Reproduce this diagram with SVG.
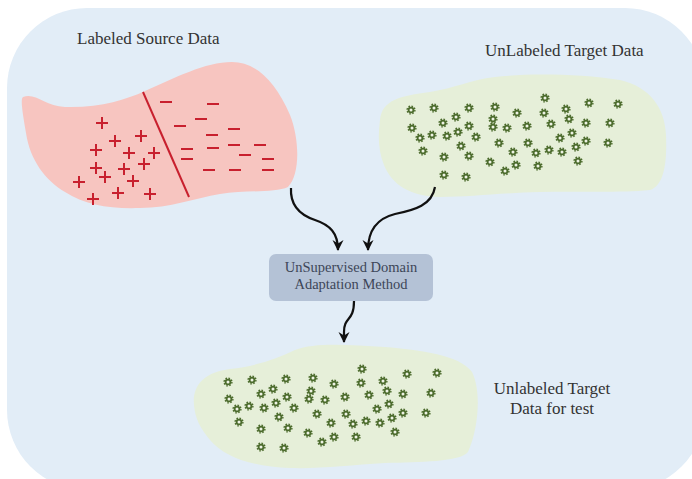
<svg xmlns="http://www.w3.org/2000/svg" xmlns:xlink="http://www.w3.org/1999/xlink" width="692" height="479" viewBox="0 0 692 479">
  <style>
    .label { font-family: 'Liberation Serif', 'Times New Roman', serif; font-size: 17px; fill: #333333; }
    .boxtext { font-family: 'Liberation Serif', 'Times New Roman', serif; font-size: 14.5px; fill: #3d4658; text-anchor: middle; }
    .plus, .minus { stroke: #c8202e; stroke-width: 2; stroke-linecap: butt; fill: none; }
    .conn { fill: none; stroke: #111111; stroke-width: 2.2; }
  </style>
  <defs>
    <marker id="head" viewBox="0 0 12 12" refX="10" refY="6" markerWidth="12" markerHeight="12" markerUnits="userSpaceOnUse" orient="auto">
      <path d="M0,0.5 L11,6 L0,11.5 L3.5,6 Z" fill="#111111"/>
    </marker>
    <!-- small cog used for unlabeled samples -->
    <symbol id="gear" viewBox="-5 -5 10 10" overflow="visible">
      <circle r="3.9" fill="none" stroke="#4b6b2c" stroke-width="1.4" stroke-dasharray="1.6 1.46"/>
      <circle r="3.3" fill="#4b6b2c"/>
      <circle r="1.5" fill="#eef3e4"/>
    </symbol>
  </defs>

  <!-- backdrop panel -->
  <rect x="7" y="8" width="698" height="482" rx="80" ry="80" fill="#e2edf7"/>

  <!-- labeled source domain -->
  <g id="source">
    <path d="M23,97 C35,92 45,106 65,107 C100,108 125,100 145,91 C175,78 205,62 232,62 C255,62 275,80 290,115 C300,140 300,175 288,187 C275,193 245,190 220,194 C195,198 170,208 140,208 C110,209 85,205 65,192 C45,180 30,160 26,133 C23,115 20,99 23,97 Z" fill="#f7c5c0"/>
    <line x1="143" y1="92" x2="189" y2="197" stroke="#c8202e" stroke-width="2"/>
    <g class="plus">
      <path d="M96,123h12M102,117v12"/>
      <path d="M109,141h12M115,135v12"/>
      <path d="M135,136h12M141,130v12"/>
      <path d="M90,150h12M96,144v12"/>
      <path d="M123,153h12M129,147v12"/>
      <path d="M148,153h12M154,147v12"/>
      <path d="M138,164h12M144,158v12"/>
      <path d="M90,168h12M96,162v12"/>
      <path d="M118,169h12M124,163v12"/>
      <path d="M99,177h12M105,171v12"/>
      <path d="M127,181h12M133,175v12"/>
      <path d="M73,182h12M79,176v12"/>
      <path d="M112,193h12M118,187v12"/>
      <path d="M87,199h12M93,193v12"/>
      <path d="M144,194h12M150,188v12"/>
    </g>
    <g class="minus">
      <path d="M160,102h12"/>
      <path d="M207,104h12"/>
      <path d="M174,126h12"/>
      <path d="M195,119h12"/>
      <path d="M206,135h12"/>
      <path d="M228,129h12"/>
      <path d="M181,149h12"/>
      <path d="M207,148h12"/>
      <path d="M228,145h12"/>
      <path d="M254,145h12"/>
      <path d="M239,155h12"/>
      <path d="M181,159h12"/>
      <path d="M262,159h12"/>
      <path d="M203,170h12"/>
      <path d="M229,170h12"/>
      <path d="M262,170h12"/>
    </g>
    <text class="label" x="77" y="44">Labeled Source Data</text>
  </g>

  <!-- unlabeled target domain -->
  <g id="target">
    <path d="M380,120 C382,100 400,96 430,92 C455,88 470,80 495,77 C530,73 580,74 620,80 C650,87 665,108 666,135 C667,160 665,185 650,190 C620,193 580,191 540,192 C500,193 470,197 440,197 C410,196 392,185 384,165 C378,150 378,135 380,120 Z" fill="#e6efd9"/>
    <g>
      <use href="#gear" x="406" y="105" width="10" height="10"/>
      <use href="#gear" x="429" y="103" width="10" height="10"/>
      <use href="#gear" x="464" y="103" width="10" height="10"/>
      <use href="#gear" x="490" y="102" width="10" height="10"/>
      <use href="#gear" x="512" y="108" width="10" height="10"/>
      <use href="#gear" x="540" y="93" width="10" height="10"/>
      <use href="#gear" x="539" y="108" width="10" height="10"/>
      <use href="#gear" x="561" y="104" width="10" height="10"/>
      <use href="#gear" x="584" y="98" width="10" height="10"/>
      <use href="#gear" x="613" y="99" width="10" height="10"/>
      <use href="#gear" x="407" y="123" width="10" height="10"/>
      <use href="#gear" x="438" y="118" width="10" height="10"/>
      <use href="#gear" x="451" y="112" width="10" height="10"/>
      <use href="#gear" x="464" y="121" width="10" height="10"/>
      <use href="#gear" x="488" y="114" width="10" height="10"/>
      <use href="#gear" x="488" y="122" width="10" height="10"/>
      <use href="#gear" x="502" y="123" width="10" height="10"/>
      <use href="#gear" x="522" y="121" width="10" height="10"/>
      <use href="#gear" x="546" y="119" width="10" height="10"/>
      <use href="#gear" x="564" y="114" width="10" height="10"/>
      <use href="#gear" x="581" y="118" width="10" height="10"/>
      <use href="#gear" x="605" y="118" width="10" height="10"/>
      <use href="#gear" x="415" y="133" width="10" height="10"/>
      <use href="#gear" x="427" y="130" width="10" height="10"/>
      <use href="#gear" x="442" y="131" width="10" height="10"/>
      <use href="#gear" x="453" y="127" width="10" height="10"/>
      <use href="#gear" x="471" y="132" width="10" height="10"/>
      <use href="#gear" x="456" y="141" width="10" height="10"/>
      <use href="#gear" x="494" y="138" width="10" height="10"/>
      <use href="#gear" x="523" y="138" width="10" height="10"/>
      <use href="#gear" x="555" y="133" width="10" height="10"/>
      <use href="#gear" x="567" y="128" width="10" height="10"/>
      <use href="#gear" x="581" y="136" width="10" height="10"/>
      <use href="#gear" x="603" y="138" width="10" height="10"/>
      <use href="#gear" x="418" y="146" width="10" height="10"/>
      <use href="#gear" x="439" y="152" width="10" height="10"/>
      <use href="#gear" x="464" y="151" width="10" height="10"/>
      <use href="#gear" x="508" y="147" width="10" height="10"/>
      <use href="#gear" x="531" y="148" width="10" height="10"/>
      <use href="#gear" x="544" y="145" width="10" height="10"/>
      <use href="#gear" x="557" y="147" width="10" height="10"/>
      <use href="#gear" x="571" y="142" width="10" height="10"/>
      <use href="#gear" x="485" y="157" width="10" height="10"/>
      <use href="#gear" x="500" y="166" width="10" height="10"/>
      <use href="#gear" x="511" y="160" width="10" height="10"/>
      <use href="#gear" x="533" y="161" width="10" height="10"/>
      <use href="#gear" x="573" y="156" width="10" height="10"/>
      <use href="#gear" x="439" y="170" width="10" height="10"/>
      <use href="#gear" x="461" y="172" width="10" height="10"/>
    </g>
    <text class="label" x="485" y="56">UnLabeled Target Data</text>
  </g>

  <!-- adaptation step -->
  <g id="method">
    <rect x="269" y="254" width="164" height="47" rx="7" ry="7" fill="#b4c2d6"/>
    <text class="boxtext" x="351" y="272">UnSupervised Domain</text>
    <text class="boxtext" x="351" y="289">Adaptation Method</text>
  </g>

  <!-- target samples for evaluation -->
  <g id="test">
    <path d="M194,405 C192,385 205,372 230,369 C255,366 275,360 295,350 C315,342 350,345 385,347 C420,350 460,355 472,372 C482,392 478,430 468,452 C460,462 420,462 385,463 C350,465 320,469 290,468 C255,467 225,458 210,440 C200,428 195,418 194,405 Z" fill="#e6efd9"/>
    <g>
      <use href="#gear" x="223" y="377" width="10" height="10"/>
      <use href="#gear" x="247" y="375" width="10" height="10"/>
      <use href="#gear" x="281" y="374" width="10" height="10"/>
      <use href="#gear" x="308" y="373" width="10" height="10"/>
      <use href="#gear" x="329" y="379" width="10" height="10"/>
      <use href="#gear" x="357" y="364" width="10" height="10"/>
      <use href="#gear" x="356" y="378" width="10" height="10"/>
      <use href="#gear" x="378" y="376" width="10" height="10"/>
      <use href="#gear" x="402" y="369" width="10" height="10"/>
      <use href="#gear" x="432" y="368" width="10" height="10"/>
      <use href="#gear" x="224" y="394" width="10" height="10"/>
      <use href="#gear" x="256" y="389" width="10" height="10"/>
      <use href="#gear" x="268" y="384" width="10" height="10"/>
      <use href="#gear" x="282" y="392" width="10" height="10"/>
      <use href="#gear" x="306" y="386" width="10" height="10"/>
      <use href="#gear" x="304" y="394" width="10" height="10"/>
      <use href="#gear" x="320" y="395" width="10" height="10"/>
      <use href="#gear" x="340" y="392" width="10" height="10"/>
      <use href="#gear" x="364" y="390" width="10" height="10"/>
      <use href="#gear" x="382" y="386" width="10" height="10"/>
      <use href="#gear" x="398" y="389" width="10" height="10"/>
      <use href="#gear" x="426" y="388" width="10" height="10"/>
      <use href="#gear" x="232" y="404" width="10" height="10"/>
      <use href="#gear" x="244" y="401" width="10" height="10"/>
      <use href="#gear" x="259" y="403" width="10" height="10"/>
      <use href="#gear" x="271" y="398" width="10" height="10"/>
      <use href="#gear" x="289" y="403" width="10" height="10"/>
      <use href="#gear" x="274" y="412" width="10" height="10"/>
      <use href="#gear" x="312" y="409" width="10" height="10"/>
      <use href="#gear" x="341" y="409" width="10" height="10"/>
      <use href="#gear" x="372" y="404" width="10" height="10"/>
      <use href="#gear" x="384" y="399" width="10" height="10"/>
      <use href="#gear" x="398" y="408" width="10" height="10"/>
      <use href="#gear" x="421" y="408" width="10" height="10"/>
      <use href="#gear" x="234" y="417" width="10" height="10"/>
      <use href="#gear" x="256" y="424" width="10" height="10"/>
      <use href="#gear" x="283" y="423" width="10" height="10"/>
      <use href="#gear" x="326" y="418" width="10" height="10"/>
      <use href="#gear" x="348" y="419" width="10" height="10"/>
      <use href="#gear" x="361" y="416" width="10" height="10"/>
      <use href="#gear" x="375" y="418" width="10" height="10"/>
      <use href="#gear" x="387" y="413" width="10" height="10"/>
      <use href="#gear" x="303" y="428" width="10" height="10"/>
      <use href="#gear" x="317" y="437" width="10" height="10"/>
      <use href="#gear" x="329" y="432" width="10" height="10"/>
      <use href="#gear" x="351" y="432" width="10" height="10"/>
      <use href="#gear" x="390" y="427" width="10" height="10"/>
      <use href="#gear" x="256" y="442" width="10" height="10"/>
      <use href="#gear" x="279" y="443" width="10" height="10"/>
    </g>
    <text class="label" x="552" y="394" text-anchor="middle">Unlabeled Target</text>
    <text class="label" x="552" y="414" text-anchor="middle">Data for test</text>
  </g>

  <!-- connectors -->
  <g id="connectors">
    <path class="conn" d="M291,188 C290,205 300,215 315,220 C330,225 338,233 338,250" marker-end="url(#head)"/>
    <path class="conn" d="M435,187 C432,205 415,210 395,214 C375,219 368,232 368,250" marker-end="url(#head)"/>
    <path class="conn" d="M354,301 C354,322 344,316 344,332 L344,342" marker-end="url(#head)"/>
  </g>
</svg>
